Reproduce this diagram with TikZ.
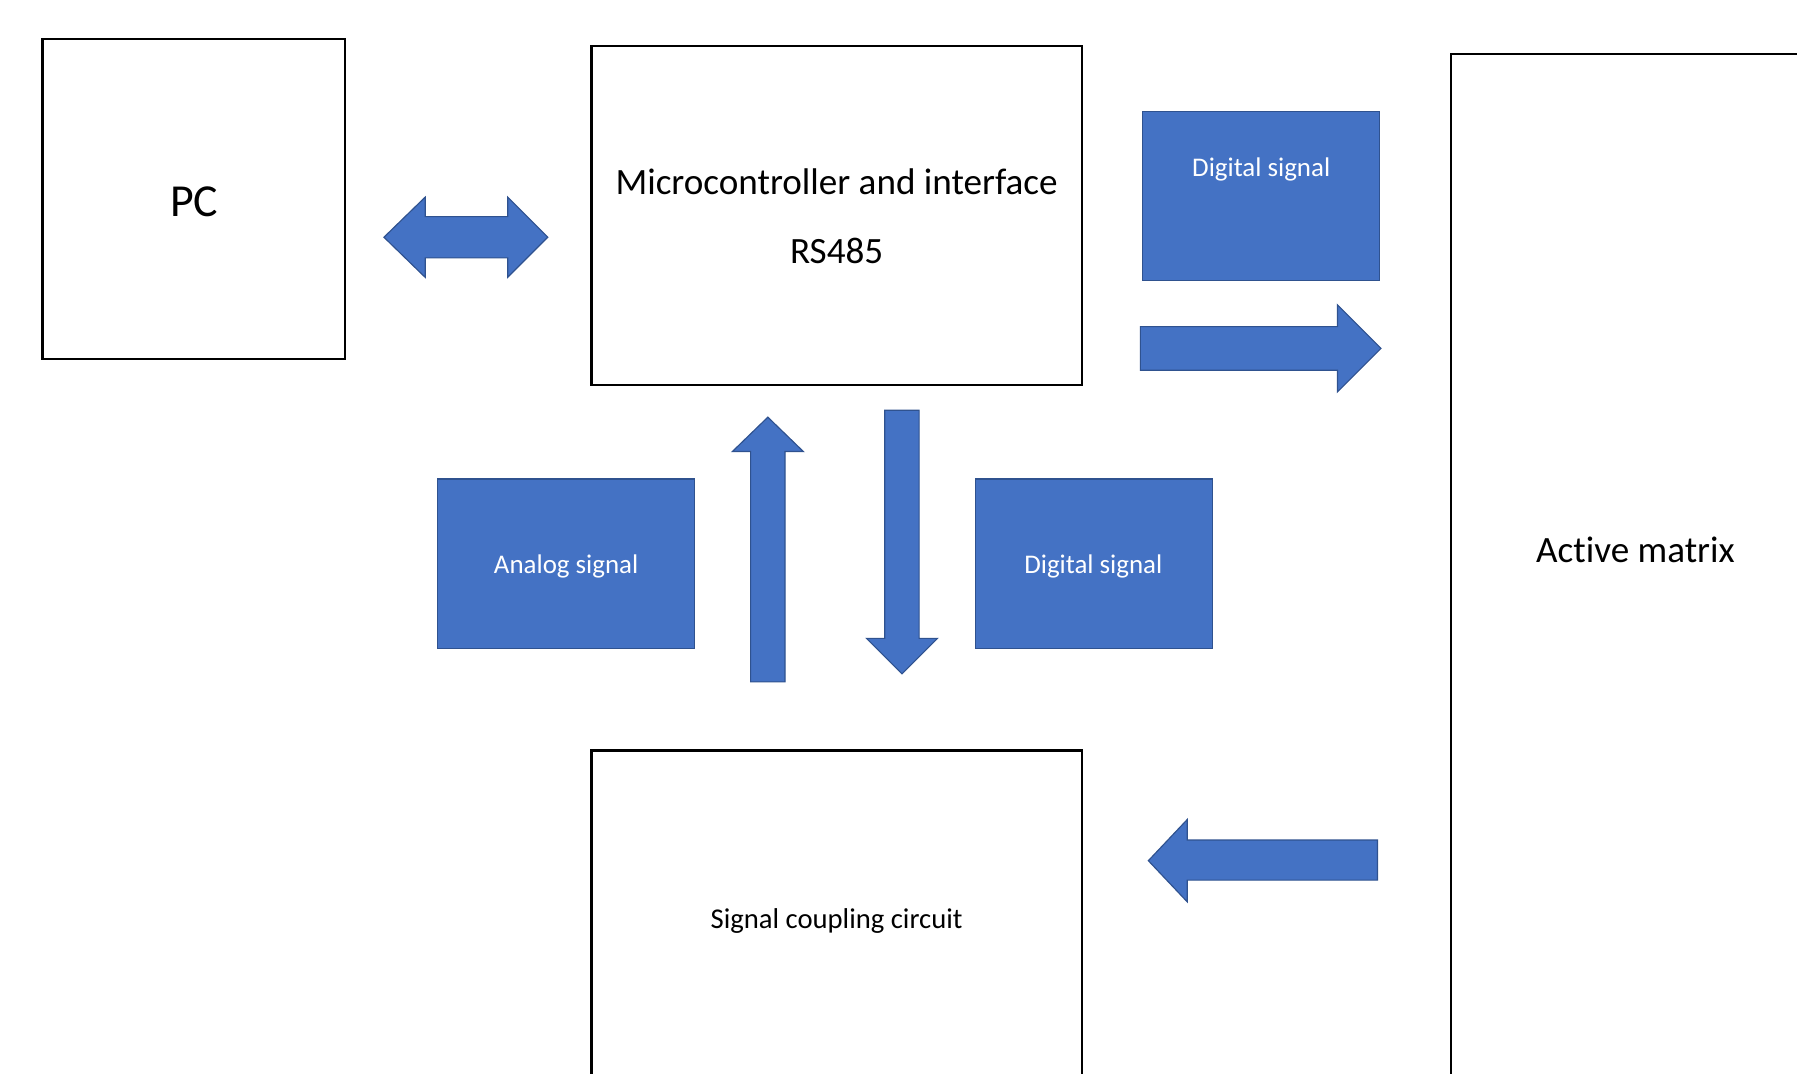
\documentclass[tikz,border=0pt]{standalone}
\usepackage{fontspec}
\setmainfont{Carlito}[Ligatures=NoCommon]
\definecolor{bluefill}{HTML}{4472C4}
\definecolor{blueedge}{HTML}{2F528F}
\begin{document}
\begin{tikzpicture}[x=1pt,y=-1pt]
\tikzset{
  blkbox/.style={draw=black, line width=2.1pt, rectangle, inner sep=0pt},
  blubox/.style={fill=bluefill, draw=blueedge, line width=1pt, rectangle, inner sep=0pt},
  bluarrow/.style={fill=bluefill, draw=blueedge, line width=1pt, line join=miter},
  lbl/.style={anchor=base, inner sep=0pt},
  whitelbl/.style={anchor=base, inner sep=0pt, text=white},
}
\path[use as bounding box] (0,0) rectangle (1568,937);
\begin{scope}
\clip (0,0) rectangle (1568,937);
% black boxes
\node[blkbox, minimum width=264pt, minimum height=279pt] (pc) at (169,173.5) {};
\node[blkbox, minimum width=428pt, minimum height=296pt] (mcu) at (730,188) {};
\node[blkbox, minimum width=322pt, minimum height=913pt] (am) at (1427,503.5) {};
\node[blkbox, minimum width=428pt, minimum height=300pt] (sc) at (730,805) {};
% blue boxes
\node[blubox, minimum width=207pt, minimum height=148pt] (dig1) at (1100.5,171) {};
\node[blubox, minimum width=224pt, minimum height=148pt] (ana) at (494,492) {};
\node[blubox, minimum width=207pt, minimum height=148pt] (dig2) at (954.5,492) {};
% texts
\node[lbl, font=\fontsize{40}{48}\selectfont] (pct) at (169.5,188.6) {PC};
\node[lbl, font=\fontsize{32.4}{38}\selectfont] (mcut1) at (730,170) {Microcontroller and interface};
\node[lbl, font=\fontsize{32.4}{38}\selectfont] (mcut2) at (730,229.6) {RS485};
\node[lbl, font=\fontsize{32.4}{38}\selectfont] (amt) at (1427,491) {Active matrix};
\node[lbl, font=\fontsize{25}{30}\selectfont] (sct) at (730,810) {Signal coupling circuit};
\node[whitelbl, font=\fontsize{23.5}{28}\selectfont] (dig1t) at (1100.5,154) {Digital signal};
\node[whitelbl, font=\fontsize{23.5}{28}\selectfont] (anat) at (494,500) {Analog signal};
\node[whitelbl, font=\fontsize{23.5}{28}\selectfont] (dig2t) at (954,500) {Digital signal};
% block arrows
\draw[bluarrow] (335,207) -- (371,172) -- (371,189) -- (443,189) -- (443,172) -- (478,207)
  -- (443,242) -- (443,225) -- (371,225) -- (371,242) -- cycle;
\draw[bluarrow] (995,285) -- (1167,285) -- (1167,266) -- (1205,304) -- (1167,342)
  -- (1167,323) -- (995,323) -- cycle;
\draw[bluarrow] (670,364) -- (701,394) -- (685,394) -- (685,595) -- (655,595)
  -- (655,394) -- (639,394) -- cycle;
\draw[bluarrow] (772,358) -- (802,358) -- (802,557) -- (818,557) -- (787,588)
  -- (756,557) -- (772,557) -- cycle;
\draw[bluarrow] (1002,751) -- (1036,715) -- (1036,733) -- (1202,733) -- (1202,768)
  -- (1036,768) -- (1036,787) -- cycle;
\end{scope}
\end{tikzpicture}
\end{document}
